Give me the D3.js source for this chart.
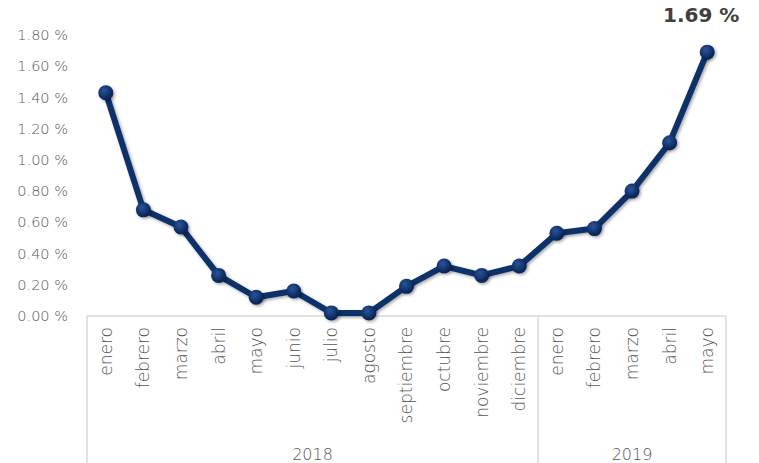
<!DOCTYPE html>
<html>
<head>
<meta charset="utf-8">
<script src="https://cdn.jsdelivr.net/npm/d3@7"></script>
<style>
  body { margin: 0; background: #fff; }
  svg { display: block; font-family: "DejaVu Sans", "Lato", sans-serif; }
  .light { font-weight: 200; }
</style>
</head>
<body>
<svg id="chart" width="759" height="463"></svg>
<script>
// data
const months = ["enero", "febrero", "marzo", "abril", "mayo", "junio", "julio", "agosto",
  "septiembre", "octubre", "noviembre", "diciembre", "enero", "febrero", "marzo", "abril", "mayo"];
const years = ["2018", "2018", "2018", "2018", "2018", "2018", "2018", "2018",
  "2018", "2018", "2018", "2018", "2019", "2019", "2019", "2019", "2019"];
const values = [1.43, 0.68, 0.57, 0.26, 0.12, 0.16, 0.02, 0.02,
  0.19, 0.32, 0.26, 0.32, 0.53, 0.56, 0.80, 1.11, 1.69];
const yTicks = [0, 0.2, 0.4, 0.6, 0.8, 1.0, 1.2, 1.4, 1.6, 1.8];

const W = 759, H = 463;
const margin = { top: 35, right: 33, bottom: 147, left: 87 };
const innerW = W - margin.left - margin.right;
const innerH = H - margin.top - margin.bottom;

const LINE = "#10306a";
const GRID = "#d9d9d9";
const TEXT = "#555555";

const svg = d3.select("#chart");

const defs = svg.append("defs");
const grad = defs.append("radialGradient").attr("id", "ball")
  .attr("cx", "40%").attr("cy", "35%").attr("r", "65%");
grad.append("stop").attr("offset", "0%").attr("stop-color", "#2c5497");
grad.append("stop").attr("offset", "60%").attr("stop-color", "#12356f");
grad.append("stop").attr("offset", "100%").attr("stop-color", "#0a2050");
const shadow = defs.append("filter").attr("id", "shadow")
  .attr("x", "-20%").attr("y", "-20%").attr("width", "140%").attr("height", "140%");
shadow.append("feDropShadow").attr("dx", 1.5).attr("dy", 1.5)
  .attr("stdDeviation", 1.5).attr("flood-color", "#000").attr("flood-opacity", 0.35);

const g = svg.append("g").attr("transform", `translate(${margin.left},${margin.top})`);

const idx = d3.range(values.length);
const x = d3.scaleBand().domain(idx).range([0, innerW]);
const y = d3.scaleLinear().domain([0, 1.8]).range([innerH, 0]);

// y axis labels (no line, no ticks)
g.append("g")
  .attr("transform", "translate(-16,0)")
  .call(d3.axisLeft(y).tickValues(yTicks).tickSize(0).tickFormat(d => d3.format(".2f")(d) + " %"))
  .call(s => s.select(".domain").remove())
  .call(s => s.selectAll("text").attr("class", "light").attr("fill", TEXT).attr("font-size", 14.5)
    .attr("font-family", "DejaVu Sans"));

// category box: baseline + separators
g.append("line")
  .attr("x1", 0).attr("x2", innerW).attr("y1", innerH).attr("y2", innerH)
  .attr("stroke", GRID).attr("stroke-width", 1.5);

const yearGroups = d3.groups(idx, i => years[i]);
const seps = [0];
yearGroups.forEach(([, ids]) => seps.push(x(ids[ids.length - 1]) + x.bandwidth()));
g.selectAll("line.sep").data(seps).join("line")
  .attr("class", "sep")
  .attr("x1", d => d).attr("x2", d => d)
  .attr("y1", innerH).attr("y2", H - margin.top)
  .attr("stroke", GRID).attr("stroke-width", 1.5);

// month labels
g.selectAll("text.month").data(idx).join("text")
  .attr("class", "month light")
  .attr("transform", i => `translate(${x(i) + x.bandwidth() / 2},${innerH + 11}) rotate(-90)`)
  .attr("text-anchor", "end")
  .attr("dy", "0.35em")
  .attr("font-size", 17)
  .attr("fill", TEXT)
  .text(i => months[i]);

// year labels
g.selectAll("text.year").data(yearGroups).join("text")
  .attr("class", "year light")
  .attr("x", ([, ids]) => (x(ids[0]) + x(ids[ids.length - 1]) + x.bandwidth()) / 2)
  .attr("y", H - margin.top - 3)
  .attr("text-anchor", "middle")
  .attr("font-size", 16)
  .attr("fill", TEXT)
  .text(([yr]) => yr);

// line
const line = d3.line()
  .x(i => x(i) + x.bandwidth() / 2)
  .y(i => y(values[i]));

g.append("path")
  .datum(idx)
  .attr("fill", "none")
  .attr("stroke", LINE)
  .attr("stroke-width", 6)
  .attr("stroke-linejoin", "round")
  .attr("filter", "url(#shadow)")
  .attr("d", line);

g.selectAll("circle.pt").data(idx).join("circle")
  .attr("class", "pt")
  .attr("cx", i => x(i) + x.bandwidth() / 2)
  .attr("cy", i => y(values[i]))
  .attr("r", 7.5)
  .attr("fill", "url(#ball)")
  .attr("filter", "url(#shadow)");

// label on last point
const last = values.length - 1;
g.append("text")
  .attr("x", x(last) + x.bandwidth() / 2 - 6)
  .attr("y", y(values[last]) - 30)
  .attr("text-anchor", "middle")
  .attr("font-size", 20)
  .attr("font-weight", "bold")
  .attr("fill", "#404040")
  .text(d3.format(".2f")(values[last]) + " %");
</script>
</body>
</html>
